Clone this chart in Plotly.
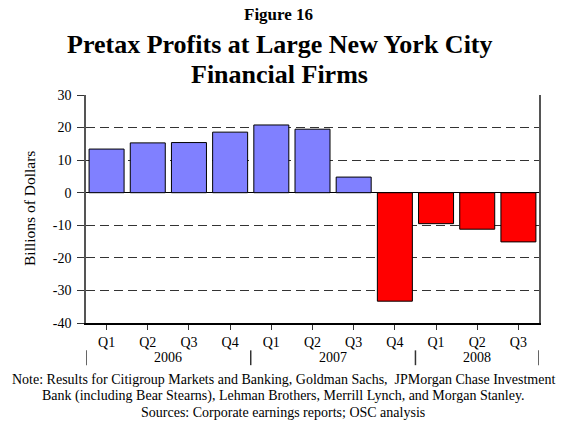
import plotly.graph_objects as go

# Pretax profits, billions of dollars
years = ["2006"] * 4 + ["2007"] * 4 + ["2008"] * 3
quarters = ["Q1", "Q2", "Q3", "Q4", "Q1", "Q2", "Q3", "Q4", "Q1", "Q2", "Q3"]
profits = [13.4, 15.3, 15.4, 18.6, 20.8, 19.5, 4.8, -33.3, -9.5, -11.2, -15.1]
y_ticks = [30, 20, 10, 0, -10, -20, -30, -40]

title_lines = ["Pretax Profits at Large New York City", "Financial Firms"]
note_lines = [
    "Note: Results for Citigroup Markets and Banking, Goldman Sachs,  JPMorgan Chase Investment",
    "Bank (including Bear Stearns), Lehman Brothers, Merrill Lynch, and Morgan Stanley.",
    "Sources: Corporate earnings reports; OSC analysis",
]

FONT = "Liberation Serif, Times New Roman, serif"

categories = [f"{q} {y}" for q, y in zip(quarters, years)]
bar_colors = ["#8080ff" if v >= 0 else "#ff0000" for v in profits]

fig = go.Figure()
fig.add_trace(
    go.Bar(
        x=categories,
        y=profits,
        marker={"color": bar_colors, "line": {"color": "#000000", "width": 1}},
        width=0.85,
        hoverinfo="y",
    )
)

fig.update_layout(
    width=566,
    height=423,
    margin={"l": 86, "r": 27, "t": 95, "b": 100, "pad": 0},
    paper_bgcolor="white",
    plot_bgcolor="white",
    showlegend=False,
    font={"family": FONT, "size": 14, "color": "#000000"},
)

fig.update_xaxes(
    type="category",
    tickmode="array",
    tickvals=categories,
    ticktext=quarters,
    ticks="outside",
    ticklen=5,
    tickcolor="#333333",
    showline=True,
    linecolor="#000000",
    linewidth=1.5,
    showgrid=False,
    tickfont={"size": 14},
    range=[-0.5, len(categories) - 0.5],
)

fig.update_yaxes(
    range=[-40, 30],
    tickmode="array",
    tickvals=y_ticks,
    ticktext=[str(v) for v in y_ticks],
    ticks="outside",
    ticklen=7,
    tickcolor="#333333",
    ticklabelstandoff=3,
    showline=True,
    linecolor="#555555",
    linewidth=1.5,
    mirror=True,
    showgrid=True,
    gridcolor="#333333",
    griddash="9px,5px",
    gridwidth=1,
    zeroline=True,
    zerolinecolor="#000000",
    zerolinewidth=1,
    tickfont={"size": 14},
)

# titles
fig.add_annotation(
    text="<b>Figure 16</b>", xref="paper", yref="paper", x=0.424, y=1.355,
    showarrow=False, font={"size": 17}, yanchor="middle",
)
for i, line in enumerate(title_lines):
    fig.add_annotation(
        text=f"<b>{line}</b>", xref="paper", yref="paper", x=0.428, y=1.223 - i * 0.131,
        showarrow=False, font={"size": 26}, yanchor="middle",
    )

# y axis title
fig.add_annotation(
    text="Billions of Dollars", xref="paper", yref="paper", x=-0.149, y=0.5,
    showarrow=False, textangle=-90, font={"size": 15.5},
)

# year labels and separators under the quarter labels
year_order = []
for y in years:
    if y not in year_order:
        year_order.append(y)
bounds = [-0.5]
for yr in year_order:
    idx = [i for i, y in enumerate(years) if y == yr]
    fig.add_annotation(
        text=yr, xref="x", yref="paper", x=(idx[0] + idx[-1]) / 2, y=-0.152,
        showarrow=False, font={"size": 14}, yanchor="middle",
    )
    bounds.append(idx[-1] + 0.5)
for b in bounds:
    fig.add_shape(
        type="line", xref="x", yref="paper", x0=b, x1=b, y0=-0.120, y1=-0.185,
        line={"color": "#333333", "width": 1.5},
    )

# footnote
for i, line in enumerate(note_lines):
    fig.add_annotation(
        text=line, xref="paper", yref="paper", x=0.435, y=-0.249 - i * 0.072,
        showarrow=False, font={"size": 14}, yanchor="middle",
    )

fig.write_html(
    "out.html",
    config={"displayModeBar": False},
    post_script="document.body.style.margin='0';",
)
